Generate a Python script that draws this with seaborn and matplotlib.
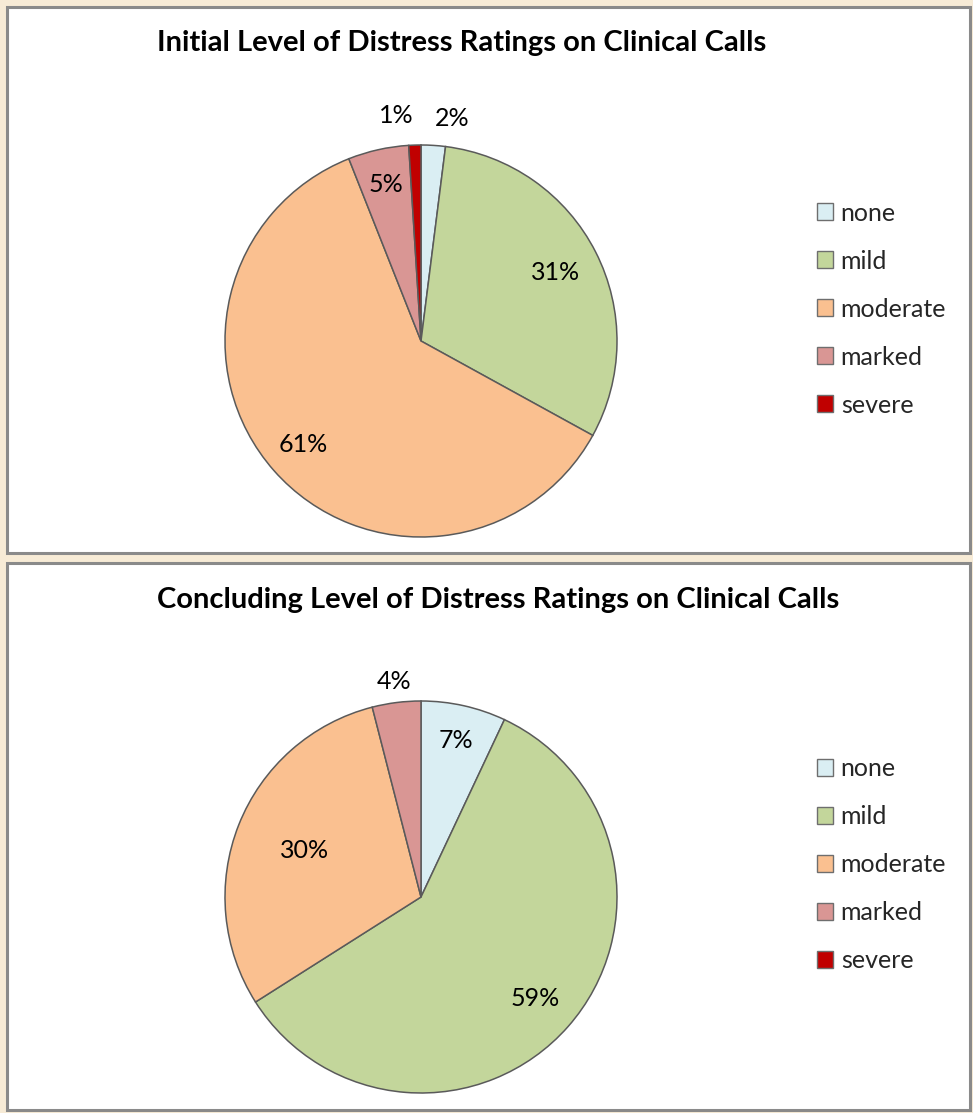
import numpy as np
import matplotlib
matplotlib.use("Agg")
import matplotlib.pyplot as plt
from matplotlib.patches import Rectangle, Patch
import seaborn as sns

sns.set_theme(style="white")
plt.rcParams['font.family'] = ['Lato', 'DejaVu Sans']

categories = ["none", "mild", "moderate", "marked", "severe"]
initial_pct = [2, 31, 61, 5, 1]
concluding_pct = [7, 59, 30, 4, 0]
titles = ["Initial Level of Distress Ratings on Clinical Calls",
          "Concluding Level of Distress Ratings on Clinical Calls"]

colors = sns.color_palette(["#DAEEF3", "#C3D69B", "#FAC090", "#D99694", "#C00000"])
edge = "#5a5a5a"

# label radius (fraction of pie radius) and alignment per slice
initial_label_r = [1.14, 0.77, 0.80, 0.82, 1.15]
initial_label_ha = ["left", "center", "center", "center", "right"]
concluding_label_r = [0.82, 0.78, 0.64, 1.11, 0.0]
concluding_label_ha = ["center", "center", "center", "center", "center"]

W, H = 973, 1113
fig = plt.figure(figsize=(W / 100, H / 100), dpi=100)
fig.patch.set_facecolor("#F7EBD6")

def px_box(x0, y0, x1, y1):
    return [x0 / W, 1 - y1 / H, (x1 - x0) / W, (y1 - y0) / H]

# white chart panels with grey frames, kept behind the pies
for (y0, y1) in [(7, 553), (563, 1110)]:
    fig.patches.append(Rectangle((7 / W, 1 - y1 / H), (970 - 7) / W, (y1 - y0) / H,
                                 transform=fig.transFigure, facecolor="white",
                                 edgecolor="#8a8a8a", linewidth=2.2, zorder=-10))

panels = [
    dict(vals=initial_pct, lr=initial_label_r, ha=initial_label_ha,
         box=px_box(225, 145, 617, 537), title_y=43, leg_y=309),
    dict(vals=concluding_pct, lr=concluding_label_r, ha=concluding_label_ha,
         box=px_box(225, 701, 617, 1093), title_y=600, leg_y=865),
]

for p, title in zip(panels, titles):
    ax = fig.add_axes(p["box"])
    ax.set_zorder(1)
    ax.patch.set_alpha(0)
    vals = np.array(p["vals"], dtype=float)
    keep = vals > 0
    wedges, _ = ax.pie(vals[keep], colors=[c for c, k in zip(colors, keep) if k],
                       startangle=90, counterclock=False, radius=1.0,
                       wedgeprops=dict(edgecolor=edge, linewidth=1.1))
    idx = [i for i in range(len(vals)) if keep[i]]
    for w, i in zip(wedges, idx):
        mid = np.deg2rad((w.theta1 + w.theta2) / 2)
        r = p["lr"][i]
        ax.text(r * np.cos(mid), r * np.sin(mid), f"{int(vals[i])}%",
                ha=p["ha"][i], va="center", fontsize=18, color="black",
                clip_on=False)
    ax.set_xlim(-1, 1)
    ax.set_ylim(-1, 1)
    ax.set_aspect("equal")
    ax.axis("off")

    fig.text(157 / W, 1 - p["title_y"] / H, title, ha="left", va="center",
             fontsize=21, fontweight="bold", color="black")

    handles = [Patch(facecolor=c, edgecolor="#6e6e6e", linewidth=1.0) for c in colors]
    fig.legend(handles, categories, loc="center left",
               bbox_to_anchor=(817 / W, 1 - p["leg_y"] / H),
               frameon=False, fontsize=18, handlelength=0.65, handleheight=0.65,
               handletextpad=0.3, labelspacing=1.0, borderpad=0, borderaxespad=0)

fig.savefig("out.png", dpi=100, facecolor=fig.get_facecolor())
